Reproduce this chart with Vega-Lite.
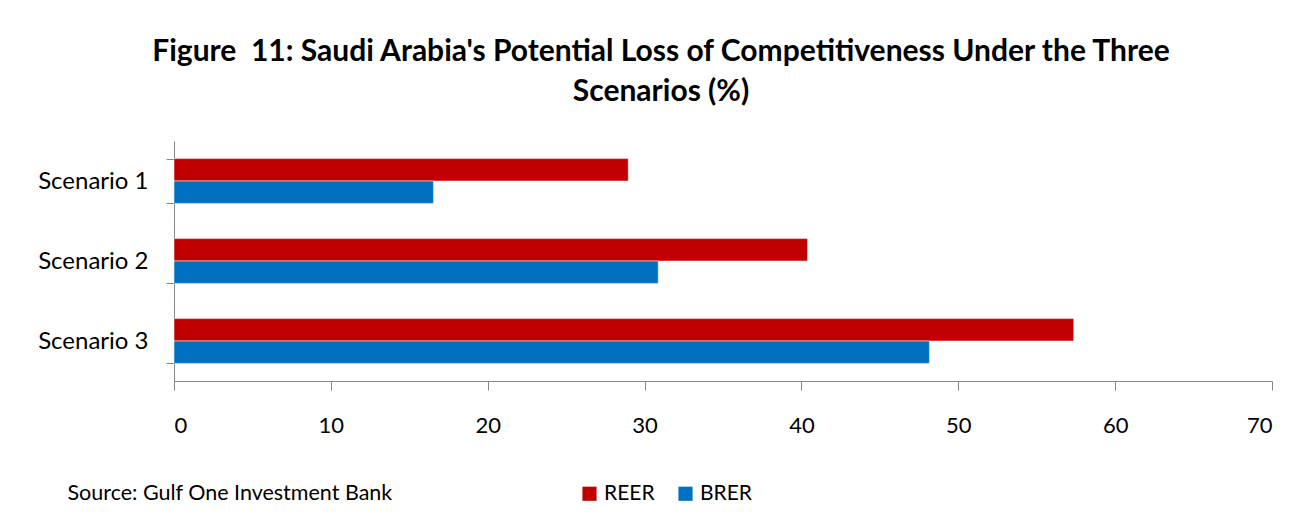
{
  "$schema": "https://vega.github.io/schema/vega-lite/v6.json",
  "width": 1098,
  "height": 240,
  "autosize": {"type": "none"},
  "padding": {"left": 174, "top": 141, "right": 41, "bottom": 146},
  "background": "white",
  "title": {
    "text": ["Figure\u00a0 11: Saudi Arabia's Potential Loss of Competitiveness Under the Three", "Scenarios (%)"],
    "font": "Lato",
    "fontSize": 30,
    "fontWeight": "bold",
    "color": "#000000",
    "lineHeight": 40,
    "anchor": "middle",
    "frame": "group",
    "dx": -62,
    "offset": 22
  },
  "data": {
    "values": [
      {"scenario": "Scenario 1", "series": "REER", "value": 28.96},
      {"scenario": "Scenario 1", "series": "BRER", "value": 16.54},
      {"scenario": "Scenario 2", "series": "REER", "value": 40.39},
      {"scenario": "Scenario 2", "series": "BRER", "value": 30.87},
      {"scenario": "Scenario 3", "series": "REER", "value": 57.36},
      {"scenario": "Scenario 3", "series": "BRER", "value": 48.16}
    ]
  },
  "mark": {"type": "bar", "stroke": "white", "strokeWidth": 0.5},
  "encoding": {
    "y": {
      "field": "scenario",
      "type": "nominal",
      "sort": ["Scenario 1", "Scenario 2", "Scenario 3"],
      "scale": {"paddingInner": 0.44, "paddingOuter": 0.22},
      "axis": {
        "title": null,
        "tickBand": "extent",
        "domainColor": "#868686",
        "tickColor": "#868686",
        "tickSize": 8,
        "labelFont": "Lato",
        "labelFontSize": 24,
        "labelColor": "#000000",
        "labelPadding": 18
      }
    },
    "yOffset": {"field": "series", "type": "nominal", "sort": ["REER", "BRER"]},
    "x": {
      "field": "value",
      "type": "quantitative",
      "scale": {"domain": [0, 70], "nice": false},
      "axis": {
        "values": [0, 10, 20, 30, 40, 50, 60, 70],
        "grid": false,
        "domainColor": "#868686",
        "tickColor": "#868686",
        "tickSize": 9,
        "labelFont": "Lato",
        "labelFontSize": 22,
        "labelColor": "#000000",
        "labelPadding": 25,
        "title": "Source: Gulf One Investment Bank",
        "titleFont": "Lato",
        "titleFontSize": 21.5,
        "titleFontWeight": "normal",
        "titleColor": "#000000",
        "titleAnchor": "start",
        "titleAlign": "left",
        "titleBaseline": "middle",
        "titleX": -107,
        "titleY": 112
      }
    },
    "color": {
      "field": "series",
      "type": "nominal",
      "sort": ["REER", "BRER"],
      "scale": {"domain": ["REER", "BRER"], "range": ["#C00000", "#0070C0"]},
      "legend": {
        "title": null,
        "orient": "none",
        "direction": "horizontal",
        "legendX": 405,
        "legendY": 342,
        "symbolType": "square",
        "symbolSize": 200,
        "symbolStrokeWidth": 0,
        "labelFont": "Lato",
        "labelFontSize": 21,
        "labelColor": "#000000",
        "labelOffset": 4,
        "columnPadding": 20
      }
    }
  },
  "config": {"view": {"stroke": null}}
}
